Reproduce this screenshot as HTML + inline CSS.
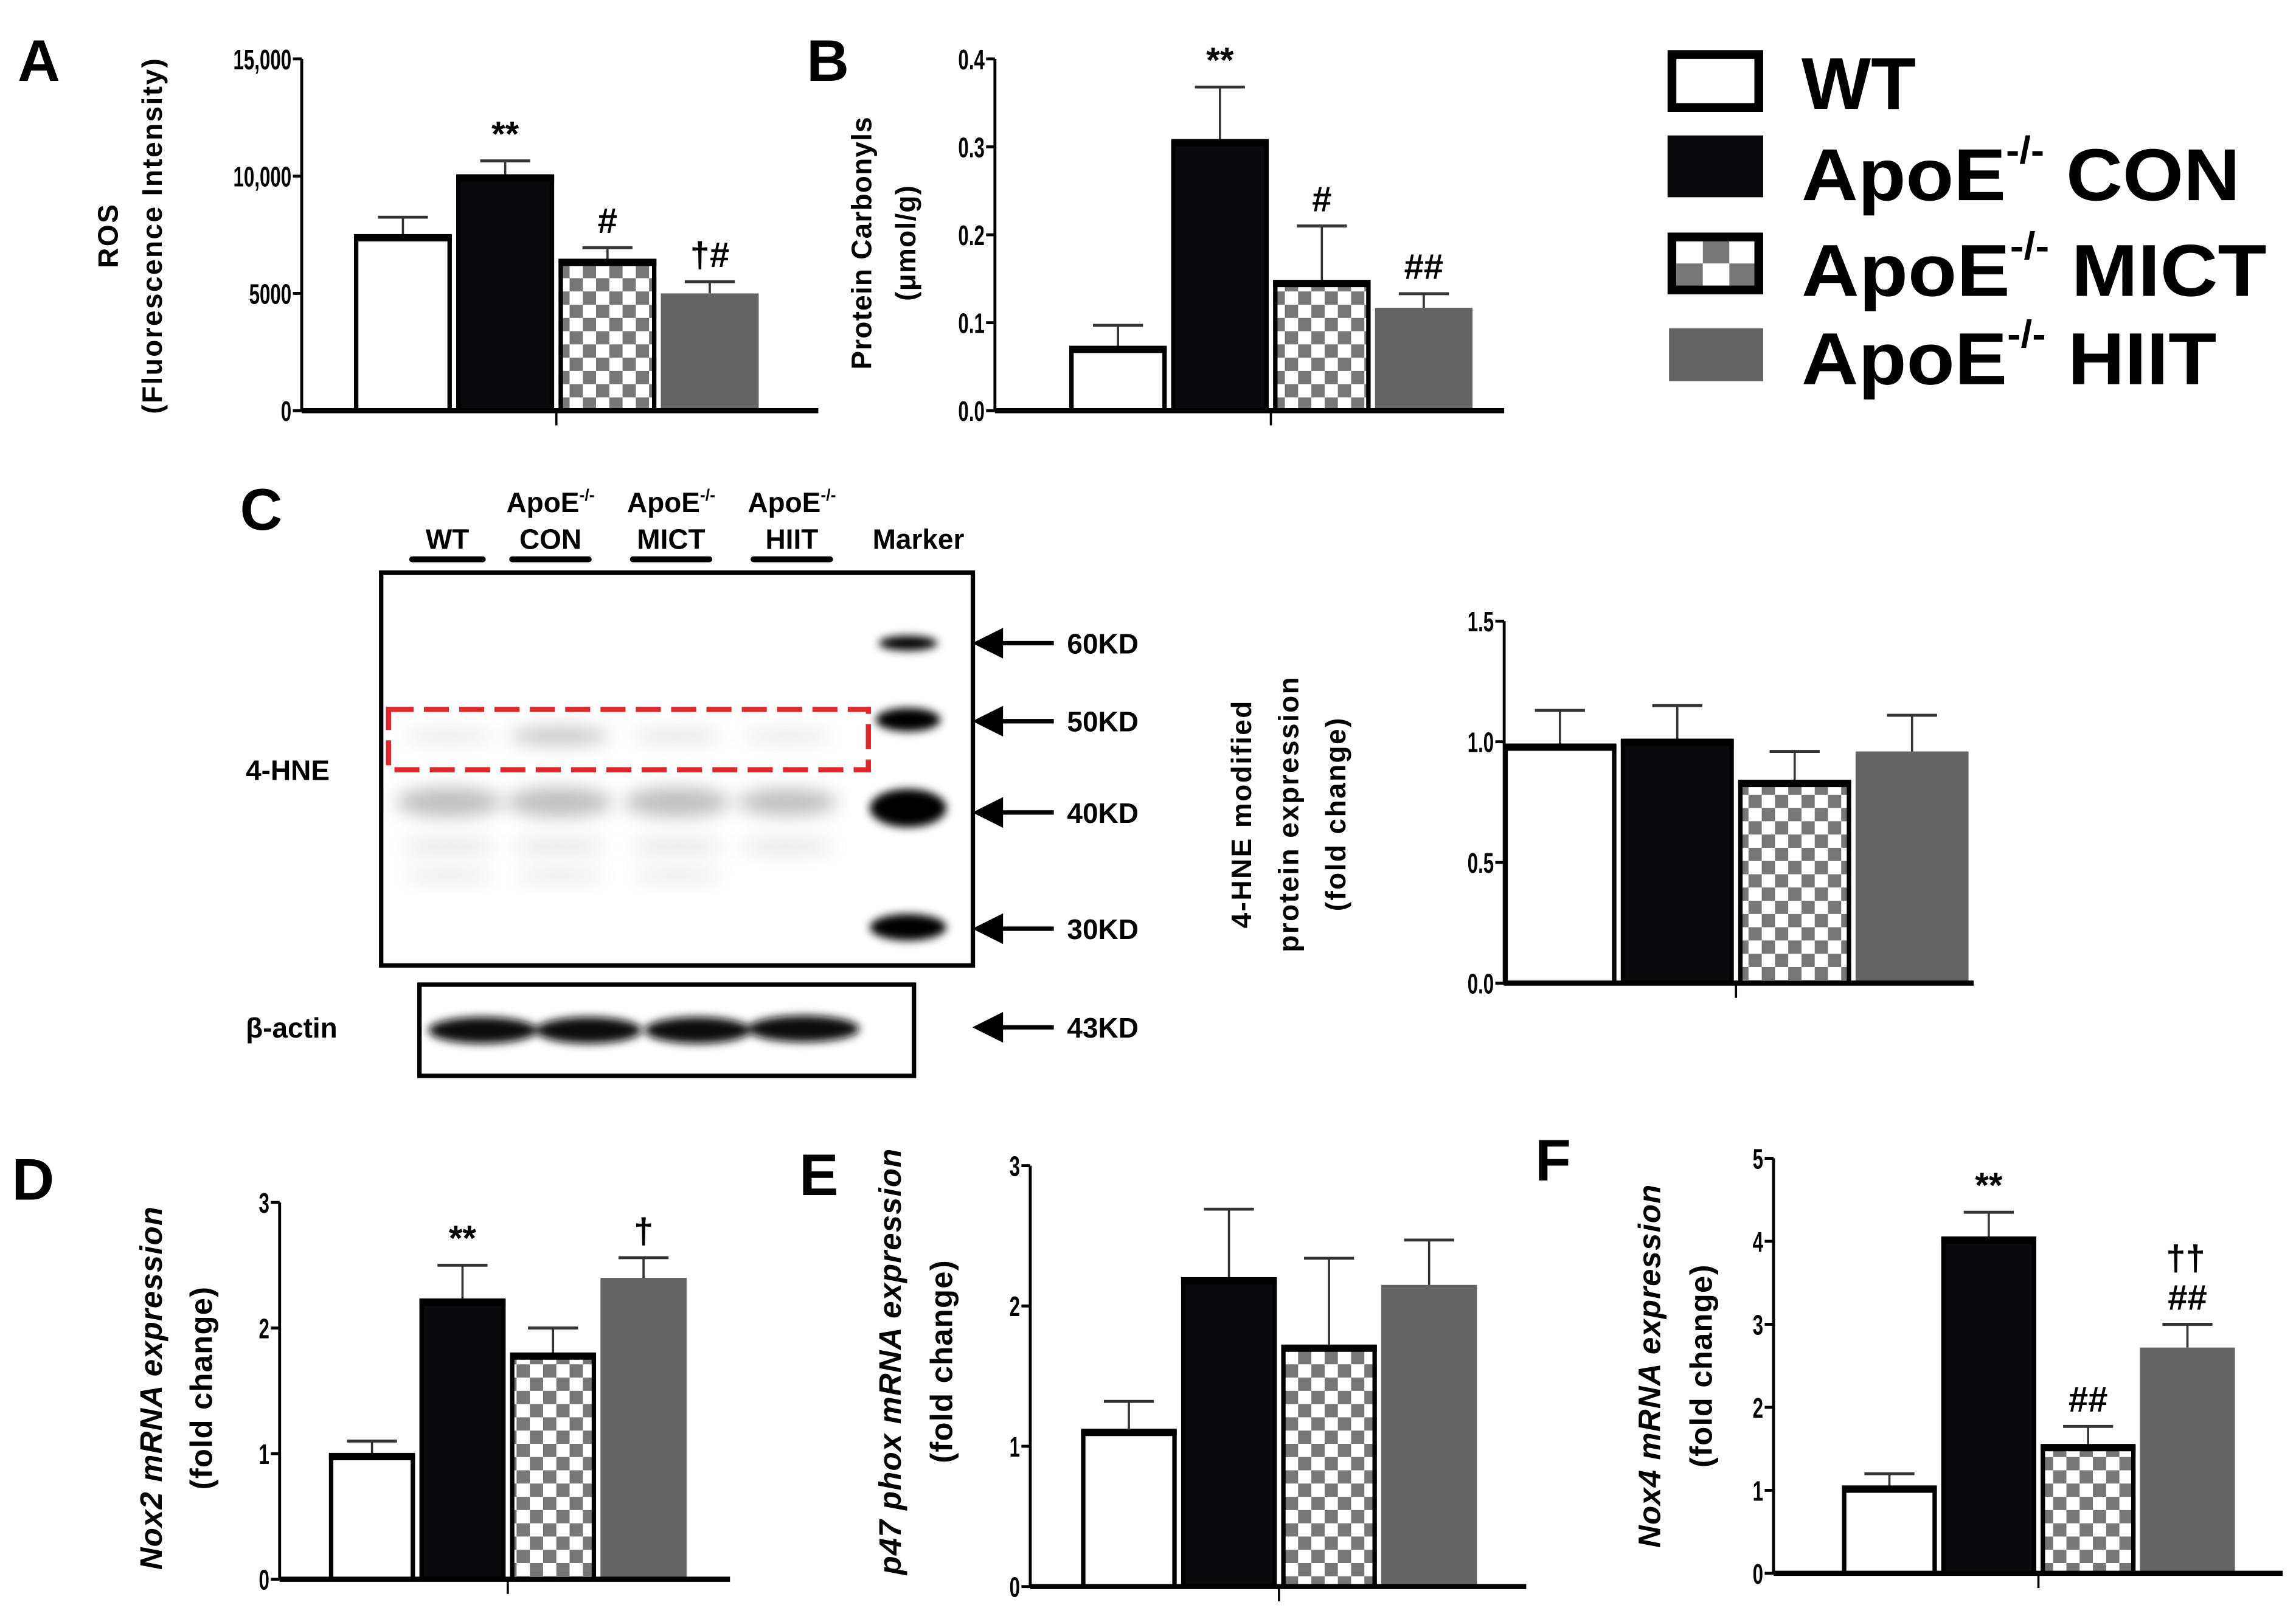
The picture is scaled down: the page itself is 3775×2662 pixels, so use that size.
<!DOCTYPE html>
<html><head><meta charset="utf-8"><style>
html,body{margin:0;padding:0;background:#fff}
svg{display:block}
text{font-family:"Liberation Sans",Arial,sans-serif}
</style></head><body>
<svg id="fig" xmlns="http://www.w3.org/2000/svg" width="3775" height="2662" viewBox="0 0 1560 1100">
<defs>
<pattern id="chk" width="18" height="18" patternUnits="userSpaceOnUse">
<rect width="18" height="18" fill="#fff"/><rect width="9" height="9" fill="#777"/><rect x="9" y="9" width="9" height="9" fill="#777"/></pattern>
<filter id="blur3" x="-50%" y="-50%" width="200%" height="200%"><feGaussianBlur stdDeviation="3"/></filter>
<filter id="blur6" x="-50%" y="-50%" width="200%" height="200%"><feGaussianBlur stdDeviation="6"/></filter>
</defs>
<g id="charts"></g>
<!-- Panel letters -->
<g font-weight="bold" font-size="40">
<text x="12" y="55">A</text>
<text x="548" y="55">B</text>
<text x="163" y="360">C</text>
<text x="8" y="815">D</text>
<text x="543" y="812">E</text>
<text x="1043" y="802">F</text>
</g>
<!-- Legend -->
<g>
<rect x="1136" y="37" width="59" height="36" fill="#fff" stroke="#000" stroke-width="6"/>
<rect x="1133" y="92" width="65" height="42" fill="#0a0a0d"/>
<rect x="1136" y="161" width="59" height="36" fill="#fff" stroke="#000" stroke-width="6"/>
<rect x="1139" y="164" width="18" height="15" fill="#fff"/><rect x="1157" y="164" width="18" height="15" fill="#777"/><rect x="1175" y="164" width="17" height="15" fill="#fff"/>
<rect x="1139" y="179" width="18" height="15" fill="#777"/><rect x="1157" y="179" width="18" height="15" fill="#fff"/><rect x="1175" y="179" width="17" height="15" fill="#777"/>
<rect x="1134" y="223" width="64" height="36" fill="#646464"/>
<g font-weight="bold" font-size="50">
<text x="1224" y="74">WT</text>
<text x="1224" y="136" textLength="298" lengthAdjust="spacingAndGlyphs">ApoE<tspan font-size="26" dy="-25">-/-</tspan><tspan dy="25"> CON</tspan></text>
<text x="1224" y="201" textLength="316" lengthAdjust="spacingAndGlyphs">ApoE<tspan font-size="26" dy="-25">-/-</tspan><tspan dy="25"> MICT</tspan></text>
<text x="1224" y="261" textLength="282" lengthAdjust="spacingAndGlyphs">ApoE<tspan font-size="26" dy="-25">-/-</tspan><tspan dy="25"> HIIT</tspan></text>
</g></g>
<!-- Western blot -->
<g>
<g font-weight="bold" font-size="19" text-anchor="middle">
<text x="304" y="373">WT</text>
<text x="374" y="348">ApoE<tspan font-size="11" dy="-8">-/-</tspan></text><text x="374" y="373">CON</text>
<text x="456" y="348">ApoE<tspan font-size="11" dy="-8">-/-</tspan></text><text x="456" y="373">MICT</text>
<text x="538" y="348">ApoE<tspan font-size="11" dy="-8">-/-</tspan></text><text x="538" y="373">HIIT</text>
<text x="624" y="373">Marker</text>
</g>
<g stroke="#000" stroke-width="4" stroke-linecap="round">
<line x1="280" y1="380" x2="328" y2="380"/><line x1="348" y1="380" x2="400" y2="380"/><line x1="430" y1="380" x2="482" y2="380"/><line x1="512" y1="380" x2="564" y2="380"/>
</g>
<rect x="259" y="389" width="402" height="267" fill="#fff" stroke="#000" stroke-width="3"/>
<g filter="url(#blur6)" fill="#888" opacity="0.55">
<ellipse cx="305" cy="545" rx="36" ry="10"/><ellipse cx="380" cy="545" rx="36" ry="10"/><ellipse cx="460" cy="545" rx="36" ry="10"/><ellipse cx="535" cy="545" rx="34" ry="9"/>
<ellipse cx="305" cy="575" rx="32" ry="4" opacity="0.5"/><ellipse cx="380" cy="575" rx="32" ry="4" opacity="0.5"/><ellipse cx="460" cy="575" rx="32" ry="4" opacity="0.5"/><ellipse cx="535" cy="575" rx="32" ry="4" opacity="0.5"/>
<ellipse cx="305" cy="595" rx="30" ry="3" opacity="0.5"/><ellipse cx="380" cy="595" rx="30" ry="3" opacity="0.5"/><ellipse cx="460" cy="595" rx="30" ry="3" opacity="0.5"/>
<ellipse cx="305" cy="500" rx="30" ry="4" opacity="0.4"/><ellipse cx="380" cy="500" rx="34" ry="6" opacity="0.9"/><ellipse cx="460" cy="500" rx="30" ry="4" opacity="0.5"/><ellipse cx="535" cy="500" rx="30" ry="4" opacity="0.4"/>
</g>
<g filter="url(#blur3)" fill="#000">
<ellipse cx="617" cy="437" rx="20" ry="5"/><ellipse cx="617" cy="489" rx="22" ry="8"/><ellipse cx="617" cy="549" rx="26" ry="13"/><ellipse cx="617" cy="630" rx="26" ry="9"/>
</g>
<rect x="264" y="482" width="326" height="41" fill="none" stroke="#e0262b" stroke-width="3.5" stroke-dasharray="17,7"/>
<rect x="285" y="669" width="336" height="62" fill="#fff" stroke="#000" stroke-width="3"/>
<g filter="url(#blur3)" fill="#111">
<ellipse cx="328" cy="700" rx="37" ry="9"/><ellipse cx="400" cy="700" rx="36" ry="9"/><ellipse cx="474" cy="700" rx="36" ry="9"/><ellipse cx="546" cy="699" rx="38" ry="9"/>
</g>
<g font-weight="bold" font-size="19">
<text x="167" y="530">4-HNE</text>
<text x="167" y="705">β-actin</text>
<text x="725" y="444">60KD</text><text x="725" y="497">50KD</text><text x="725" y="559">40KD</text><text x="725" y="638">30KD</text><text x="725" y="705">43KD</text>
</g>
<g stroke="#000" stroke-width="3" fill="#000">
<line x1="672" y1="437" x2="716" y2="437"/><path d="M664 437 L680 429 L680 445Z"/>
<line x1="672" y1="490" x2="716" y2="490"/><path d="M664 490 L680 482 L680 498Z"/>
<line x1="672" y1="552" x2="716" y2="552"/><path d="M664 552 L680 544 L680 560Z"/>
<line x1="672" y1="631" x2="716" y2="631"/><path d="M664 631 L680 623 L680 639Z"/>
<line x1="672" y1="698" x2="716" y2="698"/><path d="M664 698 L680 690 L680 706Z"/>
</g>
</g>
</svg>
<script>
// Data arrays
const groups = ["WT","ApoE-/- CON","ApoE-/- MICT","ApoE-/- HIIT"];
const rosVals = [7500, 10050, 6450, 5000];
const rosErr = [8250, 10650, 6950, 5500];
const rosTicks = ["0","5000","10,000","15,000"];
const rosTickVals = [0,5000,10000,15000];
const rosMarks = ["","**","#","†#"];
const pcVals = [0.073, 0.308, 0.148, 0.117];
const pcErr = [0.097, 0.368, 0.210, 0.133];
const pcTicks = ["0.0","0.1","0.2","0.3","0.4"];
const pcTickVals = [0,0.1,0.2,0.3,0.4];
const pcMarks = ["","**","#","##"];
const hneVals = [0.99, 1.01, 0.84, 0.96];
const hneErr = [1.13, 1.15, 0.96, 1.11];
const hneTicks = ["0.0","0.5","1.0","1.5"];
const hneTickVals = [0,0.5,1.0,1.5];
const nox2Vals = [1.0, 2.23, 1.8, 2.4];
const nox2Err = [1.1, 2.5, 2.0, 2.56];
const nox2Marks = ["","**","","†"];
const p47Vals = [1.12, 2.2, 1.72, 2.15];
const p47Err = [1.32, 2.69, 2.34, 2.47];
const mrnaTicks = ["0","1","2","3"];
const mrnaTickVals = [0,1,2,3];
const nox4Vals = [1.05, 4.05, 1.55, 2.72];
const nox4Err = [1.2, 4.35, 1.77, 3.0];
const nox4Ticks = ["0","1","2","3","4","5"];
const nox4TickVals = [0,1,2,3,4,5];
const nox4Marks = ["","**","##","##"];

const NS="http://www.w3.org/2000/svg";
const root=document.getElementById('charts');
function mk(tag,attrs,parent){const e=document.createElementNS(NS,tag);for(const k in attrs)e.setAttribute(k,attrs[k]);(parent||root).appendChild(e);return e;}

function chart(cfg){
  const g=mk('g',{});
  
  
  const y=v=>cfg.y0-(v/cfg.max)*(cfg.y0-cfg.yTop);
  const ax=mk('line',{x1:cfg.ax,y1:cfg.yTop,x2:cfg.ax,y2:cfg.y0,stroke:'#000','stroke-width':2},g);
  
  
  cfg.tickVals.forEach((tv,i)=>{
    mk('line',{x1:cfg.ax-6,y1:y(tv),x2:cfg.ax,y2:y(tv),stroke:'#000','stroke-width':2},g);
    const t=mk('text',{x:cfg.ax-7,y:y(tv)+7,'text-anchor':'end','font-size':19,'font-weight':'bold',transform:`translate(${cfg.ax-7},0) scale(0.68,1) translate(${-(cfg.ax-7)},0)`},g);
    t.textContent=cfg.ticks[i];
    
    
  });
  const n=cfg.vals.length;
  const bw=(cfg.bx1-cfg.bx0)/n;
  const fills=['#fff','#0a0a0d','url(#chk)','#646464'];
  for(let i=0;i<n;i++){
    const x0=cfg.bx0+i*bw+1.5, w=bw-3, cx=x0+w/2;
    const el=mk('line',{x1:cx,y1:y(cfg.vals[i]),x2:cx,y2:y(cfg.err[i]),stroke:'#333','stroke-width':1.5},g);
    
    
    mk('line',{x1:cx-17,y1:y(cfg.err[i]),x2:cx+17,y2:y(cfg.err[i]),stroke:'#333','stroke-width':2},g);
    const r=mk('rect',{x:x0,y:y(cfg.vals[i]),width:w,height:cfg.y0-y(cfg.vals[i]),fill:fills[i]},g);
    
    
    if(i!==3){
      mk('rect',{x:x0+1.5,y:y(cfg.vals[i])+1.5,width:w-3,height:cfg.y0-y(cfg.vals[i])-1.5,fill:'none',stroke:'#000','stroke-width':3},g);
      mk('line',{x1:x0,y1:y(cfg.vals[i])+2,x2:x0+w,y2:y(cfg.vals[i])+2,stroke:'#000','stroke-width':5},g);
    }
    if(cfg.marks&&cfg.marks[i]){
      const t=mk('text',{x:cx,y:y(cfg.err[i])-10,'text-anchor':'middle','font-size':24,'font-weight':'bold'},g);
      t.textContent=cfg.marks[i];
      
      
    }
  }
  const xa=mk('line',{x1:cfg.ax,y1:cfg.y0,x2:cfg.axEnd,y2:cfg.y0,stroke:'#000','stroke-width':3.5},g);
  
  
  const cx=(cfg.bx0+cfg.bx1)/2;
  mk('line',{x1:cx,y1:cfg.y0,x2:cx,y2:cfg.y0+10,stroke:'#000','stroke-width':1.5},g);
  const lx=cfg.labX, ly=cfg.labY;
  cfg.labels.forEach((lab,j)=>{
    const t=mk('text',{x:lx+j*cfg.labGap,y:ly,'text-anchor':'middle','font-size':cfg.labSize||20,'font-weight':'bold','letter-spacing':cfg.ls||0,'font-style':lab.it?'italic':'normal',transform:`rotate(-90 ${lx+j*cfg.labGap} ${ly})`},g);
    t.textContent=lab.t;
    
    
  });
}

chart({name:'chart-ros',vals:rosVals,err:rosErr,ticks:rosTicks,tickVals:rosTickVals,max:15000,marks:rosMarks,
  ax:205,yTop:40,y0:279,bx0:239,bx1:517,axEnd:556,labX:80,labY:160,labGap:30,labSize:19,ls:1,
  labels:[{t:'ROS'},{t:'(Fluorescence Intensity)'}]});
chart({name:'chart-protein-carbonyls',vals:pcVals,err:pcErr,ticks:pcTicks,tickVals:pcTickVals,max:0.4,marks:pcMarks,
  ax:676,yTop:40,y0:279,bx0:725,bx1:1002,axEnd:1022,labX:592,labY:165,labGap:30,labSize:19,ls:0.5,
  labels:[{t:'Protein Carbonyls'},{t:'(μmol/g)'}]});
chart({name:'chart-4hne',vals:hneVals,err:hneErr,ticks:hneTicks,tickVals:hneTickVals,max:1.5,marks:null,
  ax:1022,yTop:422,y0:668,bx0:1020,bx1:1339,axEnd:1341,labX:850,labY:553,labGap:32,labSize:19,ls:1,
  labels:[{t:'4-HNE modified'},{t:'protein expression'},{t:'(fold change)'}]});
chart({name:'chart-nox2',vals:nox2Vals,err:nox2Err,ticks:mrnaTicks,tickVals:mrnaTickVals,max:3,marks:nox2Marks,
  ax:190,yTop:817,y0:1073,bx0:222,bx1:468,axEnd:496,labX:110,labY:943,labGap:34,labSize:21,ls:0.5,
  labels:[{t:'Nox2 mRNA expression',it:1},{t:'(fold change)'}]});
chart({name:'chart-p47phox',vals:p47Vals,err:p47Err,ticks:mrnaTicks,tickVals:mrnaTickVals,max:3,marks:null,
  ax:700,yTop:792,y0:1078,bx0:733,bx1:1005,axEnd:1037,labX:612,labY:925,labGap:35,labSize:21,ls:0.5,
  labels:[{t:'p47 phox mRNA expression',it:1},{t:'(fold change)'}]});
chart({name:'chart-nox4',vals:nox4Vals,err:nox4Err,ticks:nox4Ticks,tickVals:nox4TickVals,max:5,marks:nox4Marks,
  ax:1205,yTop:787,y0:1069,bx0:1250,bx1:1520,axEnd:1551,labX:1128,labY:928,labGap:35,labSize:21,ls:0.5,
  labels:[{t:'Nox4 mRNA expression',it:1},{t:'(fold change)'}]});
(function(){
  const t=mk('text',{x:1485,y:863,'text-anchor':'middle','font-size':24,'font-weight':'bold'});
  t.textContent='††';
  
  
})();
</script>
</body></html>
